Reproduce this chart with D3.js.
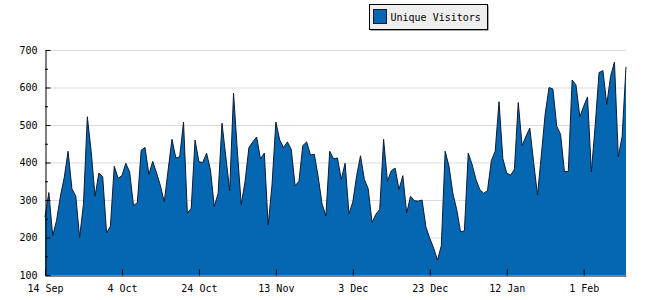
<!DOCTYPE html>
<html>
<head>
<meta charset="utf-8">
<script src="https://cdn.jsdelivr.net/npm/d3@7"></script>
<style>
  body { margin: 0; background: #fff; }
  svg { display: block; }
  text { font-family: "DejaVu Sans Mono", "Liberation Mono", monospace; font-size: 10px; fill: #000; }
</style>
</head>
<body>
<svg width="650" height="300"></svg>
<script>
// daily unique visitors, starting 14 Sep
var startDate = "2008-09-14";
var visitors = [
  255, 320, 205, 245, 310, 360, 430, 330, 310, 200,
  290, 522, 430, 310, 372, 362, 212, 230, 390, 358,
  365, 398, 375, 285, 293, 433, 440, 368, 403, 372,
  338, 295, 380, 462, 412, 415, 508, 265, 278, 460,
  402, 400, 425, 380, 283, 318, 505, 415, 325, 585,
  430, 288, 350, 440, 455, 468, 410, 425, 233, 340,
  508, 460, 440, 455, 435, 338, 350, 445, 455, 420,
  422, 362, 290, 258, 430, 410, 412, 355, 398, 263,
  295, 365, 418, 355, 330, 240, 262, 275, 462, 350,
  378, 385, 328, 365, 265, 310, 298, 297, 300, 228,
  198, 172, 140, 178, 430, 390, 318, 275, 215, 218,
  425, 395, 355, 328, 318, 325, 405, 430, 562, 410,
  372, 366, 382, 560, 445, 470, 492, 400, 313, 420,
  530, 600, 596, 497, 475, 376, 376, 620, 607, 522,
  550, 575, 375, 500, 640, 645, 555, 630, 668, 415,
  470, 655
];
var tickDates = ["2008-09-14", "2008-10-04", "2008-10-24", "2008-11-13",
                 "2008-12-03", "2008-12-23", "2009-01-12", "2009-02-01"];
var tickLabels = ["14 Sep", "4 Oct", "24 Oct", "13 Nov", "3 Dec", "23 Dec", "12 Jan", "1 Feb"];
var yTicks = [100, 200, 300, 400, 500, 600, 700];
var yMinorTicks = [150, 250, 350, 450, 550, 650];
var seriesName = "Unique Visitors";

var svg = d3.select("svg");
var padding = { top: 50, right: 24, bottom: 25, left: 45 };
var width = +svg.attr("width");
var height = +svg.attr("height");

var parse = d3.utcParse("%Y-%m-%d");
var start = parse(startDate);
var data = visitors.map((v, i) => ({ date: d3.utcDay.offset(start, i), value: v }));

var xScale = d3.scaleUtc()
  .domain([data[0].date, data[data.length - 1].date])
  .range([padding.left, width - padding.right]);

var yScale = d3.scaleLinear()
  .domain([100, 700])
  .range([height - padding.bottom, padding.top]);

// grid
svg.append("g")
  .selectAll("line")
  .data(yTicks.slice(1))
  .enter()
  .append("line")
    .attr("x1", padding.left)
    .attr("x2", width - padding.right)
    .attr("y1", d => yScale(d) + 0.5)
    .attr("y2", d => yScale(d) + 0.5)
    .style("stroke", "#dcdcdc");

// area + outline
var area = d3.area()
  .x(d => xScale(d.date))
  .y0(yScale(100))
  .y1(d => yScale(d.value));

var line = d3.line()
  .x(d => xScale(d.date))
  .y(d => yScale(d.value));

svg.append("path")
  .datum(data)
  .attr("d", area)
  .style("fill", "#0566b1");

svg.append("path")
  .datum(data)
  .attr("d", line)
  .style("fill", "none")
  .style("stroke", "#0d1b33")
  .style("stroke-width", 1);

// x axis
var xAxis = d3.axisBottom(xScale)
  .tickValues(tickDates.map(parse))
  .tickFormat((d, i) => tickLabels[i])
  .tickSizeInner(-6)
  .tickSizeOuter(0)
  .tickPadding(9);

svg.append("g")
  .attr("transform", `translate(0, ${yScale(100) + 0.5})`)
  .call(xAxis)
  .call(g => g.selectAll("text").attr("font-family", null).attr("font-size", null))
  .call(g => g.selectAll("line, path").style("stroke", "#000"));

// y axis
var yAxis = d3.axisLeft(yScale)
  .tickValues(yTicks)
  .tickSizeInner(-5)
  .tickSizeOuter(0)
  .tickPadding(8);

svg.append("g")
  .attr("transform", `translate(${padding.left + 0.5}, 0)`)
  .call(yAxis)
  .call(g => g.selectAll("text").attr("font-family", null).attr("font-size", null))
  .call(g => g.selectAll("line, path").style("stroke", "#000"));

svg.append("g")
  .selectAll("line")
  .data(yMinorTicks)
  .enter()
  .append("line")
    .attr("x1", padding.left)
    .attr("x2", padding.left + 3)
    .attr("y1", d => yScale(d) + 0.5)
    .attr("y2", d => yScale(d) + 0.5)
    .style("stroke", "#000");

// legend
var legend = svg.append("g")
  .attr("transform", "translate(369.5, 4.5)");

legend.append("rect")
  .attr("x", 1)
  .attr("y", 1)
  .attr("width", 118)
  .attr("height", 25)
  .style("fill", "#555");

legend.append("rect")
  .attr("width", 118)
  .attr("height", 25)
  .style("fill", "#eeeeee")
  .style("stroke", "#000");

legend.append("rect")
  .attr("x", 4)
  .attr("y", 5)
  .attr("width", 13)
  .attr("height", 14)
  .style("fill", "#0566b1")
  .style("stroke", "#0d1b33");

legend.append("text")
  .attr("x", 21)
  .attr("y", 16)
  .text(seriesName);
</script>
</body>
</html>
